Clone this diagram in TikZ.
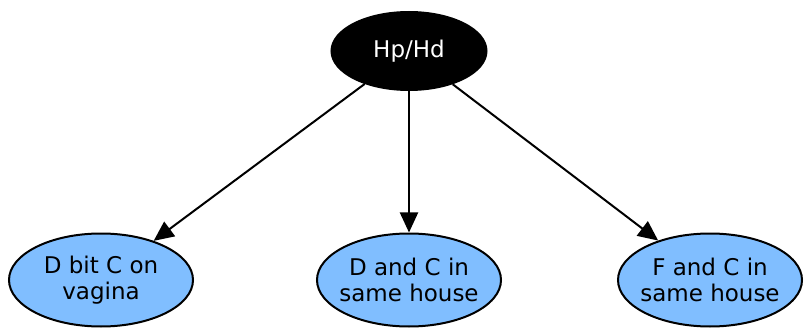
\documentclass[tikz,border=0pt]{standalone}
\usepackage{fontspec}
\setmainfont{DejaVu Sans}
\usetikzlibrary{arrows.meta}
\usetikzlibrary{shapes.geometric}
\definecolor{nodeblue}{RGB}{128,190,255}
\tikzset{
  hyp/.style={ellipse,draw,line width=2pt,fill=black,text=white,
    minimum width=155pt,minimum height=78pt,font=\fontsize{23}{26}\selectfont},
  evid/.style={ellipse,draw,line width=2pt,fill=nodeblue,align=center,
    minimum width=184pt,minimum height=93pt,inner xsep=-12pt,inner ysep=0pt,
    font=\fontsize{23}{26}\selectfont},
  link/.style={line width=2pt,-{Triangle[length=20pt,width=18pt]}}
}

\begin{document}
\begin{tikzpicture}[x=1pt,y=1pt]
	\useasboundingbox (0,0) rectangle (806,327);
	\node [hyp] (hp) at (409,276) {Hp/Hd};
	\node [evid] (bit) at (101,47) {D bit C on\\vagina};
	\node [evid] (dhouse) at (409,47) {D and C in\\same house};
	\node [evid] (fhouse) at (710,47) {F and C in\\same house};

	\draw [link] (hp) -- (bit);
	\draw [link] (hp) -- (dhouse);
	\draw [link] (hp) -- (fhouse);
\end{tikzpicture}
\end{document}
